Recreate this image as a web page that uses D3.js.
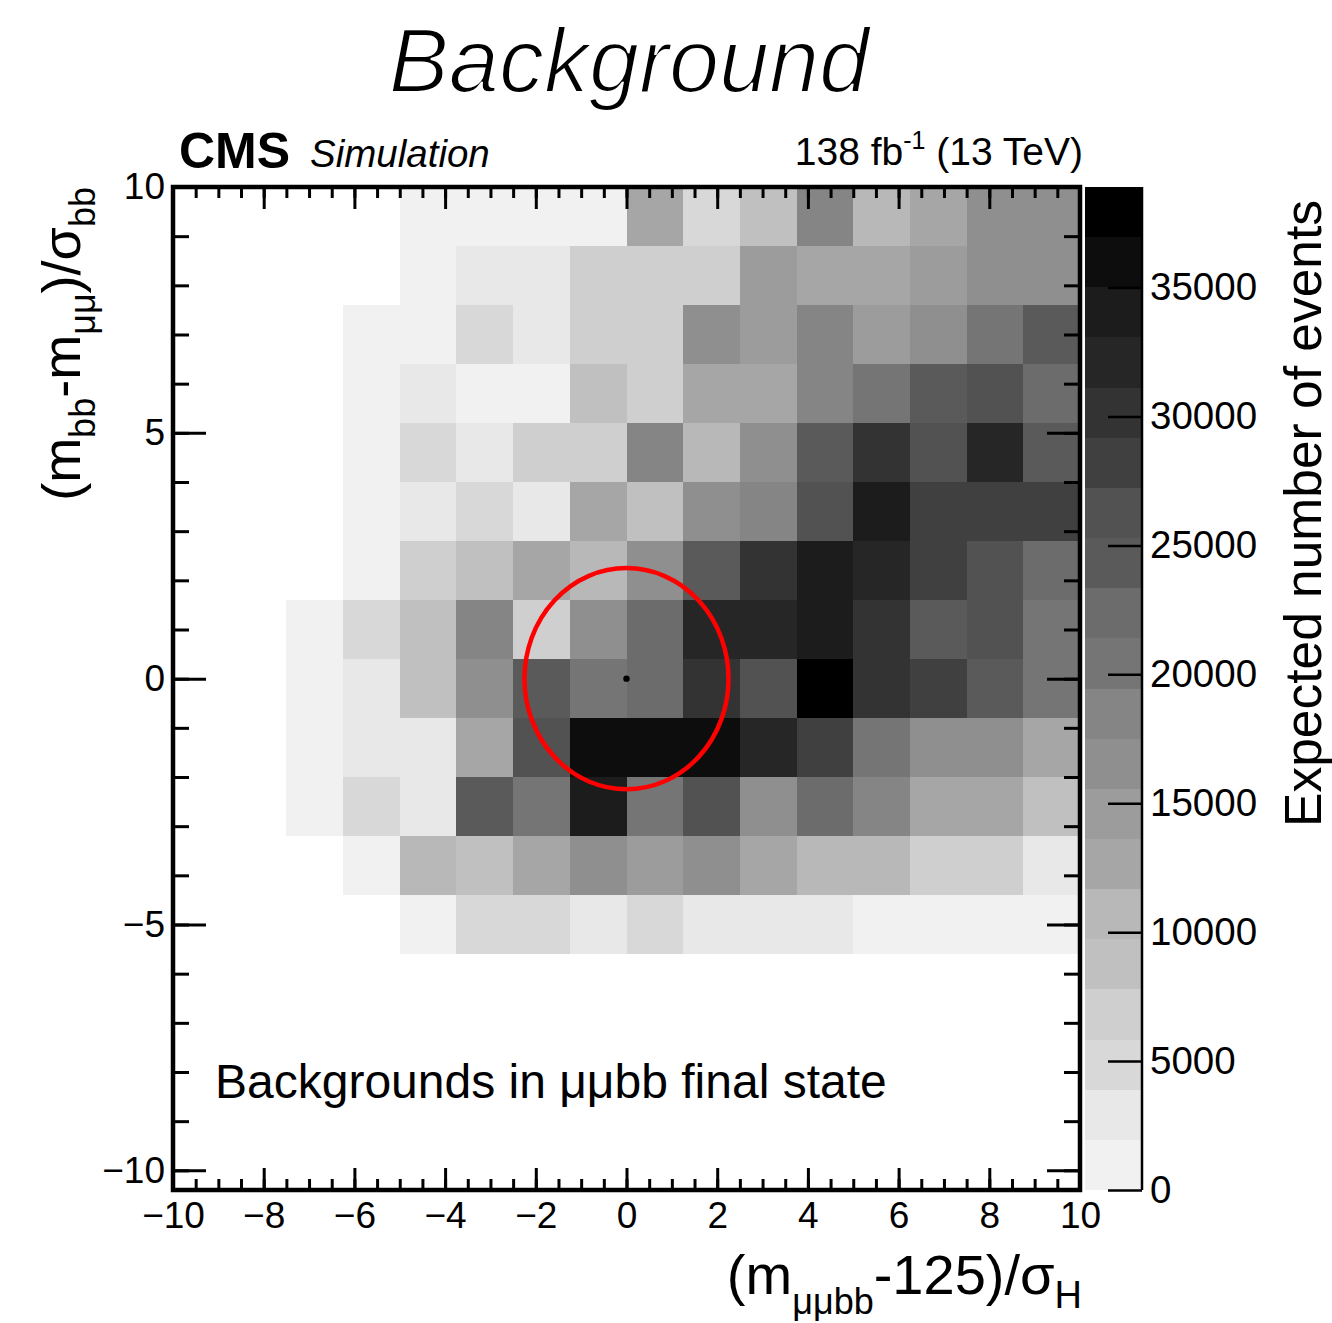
<!DOCTYPE html>
<html>
<head>
<meta charset="utf-8">
<script src="https://cdn.jsdelivr.net/npm/d3@7"></script>
<style>
  html, body { margin: 0; padding: 0; background: #fff; }
  svg { display: block; }
  text { font-family: "Liberation Sans", Arial, Helvetica, sans-serif; fill: #000; }
</style>
</head>
<body>
<svg id="chart" width="1332" height="1323"></svg>
<script>
// Bin edges of the 2D histogram
const xEdges = [-10, -8.75, -7.5, -6.25, -5, -3.75, -2.5, -1.25, 0, 1.25, 2.5, 3.75, 5, 6.25, 7.5, 8.75, 10];
// y edges listed from the top row down
const yEdges = [10, 8.8, 7.6, 6.4, 5.2, 4.0, 2.8, 1.6, 0.4, -0.8, -2.0, -3.2, -4.4, -5.6, -6.8, -8.0, -9.2, -10.4];

// Expected background events per bin, one array per y row (top row first), one entry per x bin
const row01 = [0, 0, 0, 0, 1100, 900, 1300, 1200, 12900, 5100, 8900, 18100, 10900, 12300, 16800, 16200];
const row02 = [0, 0, 0, 0, 1400, 2800, 3100, 7200, 6900, 7100, 14400, 12700, 13100, 14800, 16400, 16900];
const row03 = [0, 0, 0, 900, 1200, 5300, 2600, 7000, 6600, 16100, 14200, 18300, 14900, 16600, 20600, 24700];
const row04 = [0, 0, 0, 1000, 3200, 1100, 800, 8600, 7300, 12500, 13200, 17900, 20900, 24100, 26100, 22600];
const row05 = [0, 0, 0, 1300, 4700, 2400, 6400, 7500, 18700, 10300, 16200, 23900, 29800, 26500, 32900, 24500];
const row06 = [0, 0, 0, 1200, 2500, 4500, 3300, 12200, 8300, 16900, 18100, 26700, 34300, 28600, 28000, 28900];
const row07 = [0, 0, 0, 1400, 6700, 9100, 12800, 11200, 16300, 24900, 30300, 34500, 32400, 28400, 26000, 22900];
const row08 = [0, 0, 900, 4900, 9000, 18500, 7000, 16700, 22100, 32200, 31800, 34200, 30500, 24200, 26400, 20300];
const row09 = [0, 0, 1100, 2700, 8700, 16400, 24600, 20100, 22700, 30100, 26600, 38900, 29900, 28300, 24000, 20800];
const row10 = [0, 0, 1000, 3000, 2600, 12600, 26200, 36300, 36700, 35800, 32600, 28100, 20500, 16300, 16500, 12400];
const row11 = [0, 0, 800, 4600, 2900, 24300, 20700, 34100, 20200, 26300, 16100, 22500, 18200, 12900, 12200, 8500];
const row12 = [0, 0, 0, 1200, 10600, 8900, 12300, 16700, 14300, 16200, 12800, 10500, 11000, 6900, 7200, 2800];
const row13 = [0, 0, 0, 0, 1300, 4400, 4900, 2600, 4700, 2900, 3300, 2700, 1600, 1100, 900, 1200];
const row14 = [0, 0, 0, 0, 0, 0, 0, 0, 0, 0, 0, 0, 0, 0, 0, 0];
const row15 = [0, 0, 0, 0, 0, 0, 0, 0, 0, 0, 0, 0, 0, 0, 0, 0];
const row16 = [0, 0, 0, 0, 0, 0, 0, 0, 0, 0, 0, 0, 0, 0, 0, 0];
const row17 = [0, 0, 0, 0, 0, 0, 0, 0, 0, 0, 0, 0, 0, 0, 0, 0];
const eventRows = [row01, row02, row03, row04, row05, row06, row07, row08, row09,
                   row10, row11, row12, row13, row14, row15, row16, row17];

const zMax = 38900;

// Tick labels / positions
const xMajorTicks = [-10, -8, -6, -4, -2, 0, 2, 4, 6, 8, 10];
const yMajorTicks = [-10, -5, 0, 5, 10];
const zTicks = [0, 5000, 10000, 15000, 20000, 25000, 30000, 35000];

// Signal window drawn on top (centre and radius in axis units)
const windowCenter = [0, 0];
const windowRadius = 2.25;

// 20-level grey palette, light to dark
const greyPalette = ["#f1f1f1", "#e8e8e8", "#d8d8d8", "#cfcfcf", "#c0c0c0", "#b8b8b8", "#a6a6a6",
  "#9c9c9c", "#8f8f8f", "#858585", "#757575", "#6c6c6c", "#5a5a5a", "#525252", "#404040",
  "#333333", "#262626", "#1c1c1c", "#0d0d0d", "#000000"];

const svg = d3.select("#chart");

const frame = { left: 173, right: 1080, top: 187, bottom: 1190 };
const x = d3.scaleLinear().domain([-10, 10]).range([frame.left, frame.right]);
const y = d3.scaleLinear().domain([-10.4, 10]).range([frame.bottom, frame.top]);
const color = d3.scaleQuantize().domain([0, zMax]).range(greyPalette);

// Histogram cells
const cells = [];
eventRows.forEach((row, r) => {
  row.forEach((v, c) => {
    if (v > 0) cells.push({ x0: xEdges[c], x1: xEdges[c + 1], y0: yEdges[r + 1], y1: yEdges[r], v });
  });
});

svg.append("g")
  .attr("shape-rendering", "crispEdges")
  .selectAll("rect")
  .data(cells)
  .join("rect")
  .attr("x", d => x(d.x0))
  .attr("y", d => y(d.y1))
  .attr("width", d => x(d.x1) - x(d.x0))
  .attr("height", d => y(d.y0) - y(d.y1))
  .attr("fill", d => color(d.v));

// Signal window ellipse and its centre
svg.append("ellipse")
  .attr("cx", x(windowCenter[0]))
  .attr("cy", y(windowCenter[1]))
  .attr("rx", x(windowCenter[0] + windowRadius) - x(windowCenter[0]))
  .attr("ry", y(windowCenter[1]) - y(windowCenter[1] + windowRadius))
  .attr("fill", "none")
  .attr("stroke", "#ff0000")
  .attr("stroke-width", 4.5);

svg.append("circle")
  .attr("cx", x(windowCenter[0]))
  .attr("cy", y(windowCenter[1]))
  .attr("r", 3.2)
  .attr("fill", "#000");

// Axes (ticks point into the frame)
function styleAxis(g, fontSize) {
  g.select(".domain").remove();
  g.selectAll(".tick line").attr("stroke", "#000").attr("stroke-width", 3);
  g.selectAll(".tick text").attr("font-size", fontSize).attr("fill", "#000")
    .attr("font-family", '"Liberation Sans", Arial, Helvetica, sans-serif');
}

const xMinor = d3.range(-10, 10.001, 0.5);
const yMinor = d3.range(-10, 10.001, 1);

svg.append("g").attr("transform", `translate(0,${frame.bottom})`)
  .call(d3.axisBottom(x).tickValues(xMinor).tickSize(-11).tickFormat(""))
  .call(g => styleAxis(g, 37));
svg.append("g").attr("transform", `translate(0,${frame.bottom})`)
  .call(d3.axisBottom(x).tickValues(xMajorTicks).tickSize(-22).tickPadding(10))
  .call(g => styleAxis(g, 37))
  .call(g => g.selectAll(".tick text").attr("dy", "0.75em"));

svg.append("g").attr("transform", `translate(0,${frame.top})`)
  .call(d3.axisTop(x).tickValues(xMinor).tickSize(-11).tickFormat(""))
  .call(g => styleAxis(g, 37));
svg.append("g").attr("transform", `translate(0,${frame.top})`)
  .call(d3.axisTop(x).tickValues(xMajorTicks).tickSize(-22).tickFormat(""))
  .call(g => styleAxis(g, 37));

svg.append("g").attr("transform", `translate(${frame.left},0)`)
  .call(d3.axisLeft(y).tickValues(yMinor).tickSize(-16).tickFormat(""))
  .call(g => styleAxis(g, 37));
svg.append("g").attr("transform", `translate(${frame.left},0)`)
  .call(d3.axisLeft(y).tickValues(yMajorTicks).tickSize(-33).tickPadding(8))
  .call(g => styleAxis(g, 37));

svg.append("g").attr("transform", `translate(${frame.right},0)`)
  .call(d3.axisRight(y).tickValues(yMinor).tickSize(-16).tickFormat(""))
  .call(g => styleAxis(g, 37));
svg.append("g").attr("transform", `translate(${frame.right},0)`)
  .call(d3.axisRight(y).tickValues(yMajorTicks).tickSize(-33).tickFormat(""))
  .call(g => styleAxis(g, 37));

// Frame
svg.append("rect")
  .attr("x", frame.left).attr("y", frame.top)
  .attr("width", frame.right - frame.left).attr("height", frame.bottom - frame.top)
  .attr("fill", "none").attr("stroke", "#000").attr("stroke-width", 4.5);

// Colour bar
const bar = { left: 1085, right: 1142 };
const z = d3.scaleLinear().domain([0, zMax]).range([frame.bottom, frame.top]);
const bandStep = zMax / greyPalette.length;
svg.append("g").attr("shape-rendering", "crispEdges")
  .selectAll("rect")
  .data(greyPalette)
  .join("rect")
  .attr("x", bar.left)
  .attr("width", bar.right - bar.left)
  .attr("y", (d, i) => z((i + 1) * bandStep))
  .attr("height", (d, i) => z(i * bandStep) - z((i + 1) * bandStep))
  .attr("fill", d => d);

svg.append("line")
  .attr("x1", bar.right).attr("x2", bar.right)
  .attr("y1", frame.top).attr("y2", frame.bottom)
  .attr("stroke", "#000").attr("stroke-width", 2.5);

svg.append("g").attr("transform", `translate(${bar.right},0)`)
  .call(d3.axisRight(z).tickValues(zTicks).tickSize(-34).tickPadding(8).tickFormat(d3.format("d")))
  .call(g => styleAxis(g, 38.5))
  .call(g => g.selectAll(".tick line").attr("stroke-width", 2.5));

// Axis titles
const xTitle = svg.append("text")
  .attr("x", frame.right + 2).attr("y", 1294)
  .attr("text-anchor", "end").attr("font-size", 56);
xTitle.append("tspan").text("(m");
xTitle.append("tspan").attr("font-size", 36).attr("dy", 20).text("μμbb");
xTitle.append("tspan").attr("dy", -20).text("-125)/σ");
xTitle.append("tspan").attr("font-size", 38).attr("dy", 14).text("H");

const yTitle = svg.append("text")
  .attr("transform", `translate(80,${frame.top}) rotate(-90)`)
  .attr("text-anchor", "end").attr("font-size", 54);
yTitle.append("tspan").text("(m");
yTitle.append("tspan").attr("font-size", 36).attr("dy", 15).text("bb");
yTitle.append("tspan").attr("dy", -15).text("-m");
yTitle.append("tspan").attr("font-size", 36).attr("dy", 15).text("μμ");
yTitle.append("tspan").attr("dy", -15).text(")/σ");
yTitle.append("tspan").attr("font-size", 36).attr("dy", 15).text("bb");

svg.append("text")
  .attr("transform", "translate(1321,200) rotate(-90)")
  .attr("text-anchor", "end").attr("font-size", 51.5)
  .text("Expected number of events");

// Header texts (title thinned with a white outline for a light look)
svg.append("text")
  .attr("x", 629).attr("y", 92)
  .attr("text-anchor", "middle")
  .attr("font-family", "'Roboto Light', 'Lato Light', Inter, Roboto, sans-serif")
  .attr("font-weight", 300).attr("font-style", "italic")
  .attr("font-size", 90)
  .attr("stroke", "#fff").attr("stroke-width", 2.2)
  .text("Background");

svg.append("text")
  .attr("x", 179).attr("y", 168)
  .attr("font-weight", "bold").attr("font-size", 50)
  .text("CMS");
svg.append("text")
  .attr("x", 310).attr("y", 167)
  .attr("font-style", "italic").attr("font-size", 38.5)
  .text("Simulation");

const lumi = svg.append("text")
  .attr("x", 1083).attr("y", 165)
  .attr("text-anchor", "end").attr("font-size", 39);
lumi.append("tspan").text("138 fb");
lumi.append("tspan").attr("font-size", 25).attr("dy", -16).text("-1");
lumi.append("tspan").attr("dy", 16).text(" (13 TeV)");

svg.append("text")
  .attr("x", 215).attr("y", 1098)
  .attr("font-size", 48)
  .text("Backgrounds in μμbb final state");
</script>
</body>
</html>
